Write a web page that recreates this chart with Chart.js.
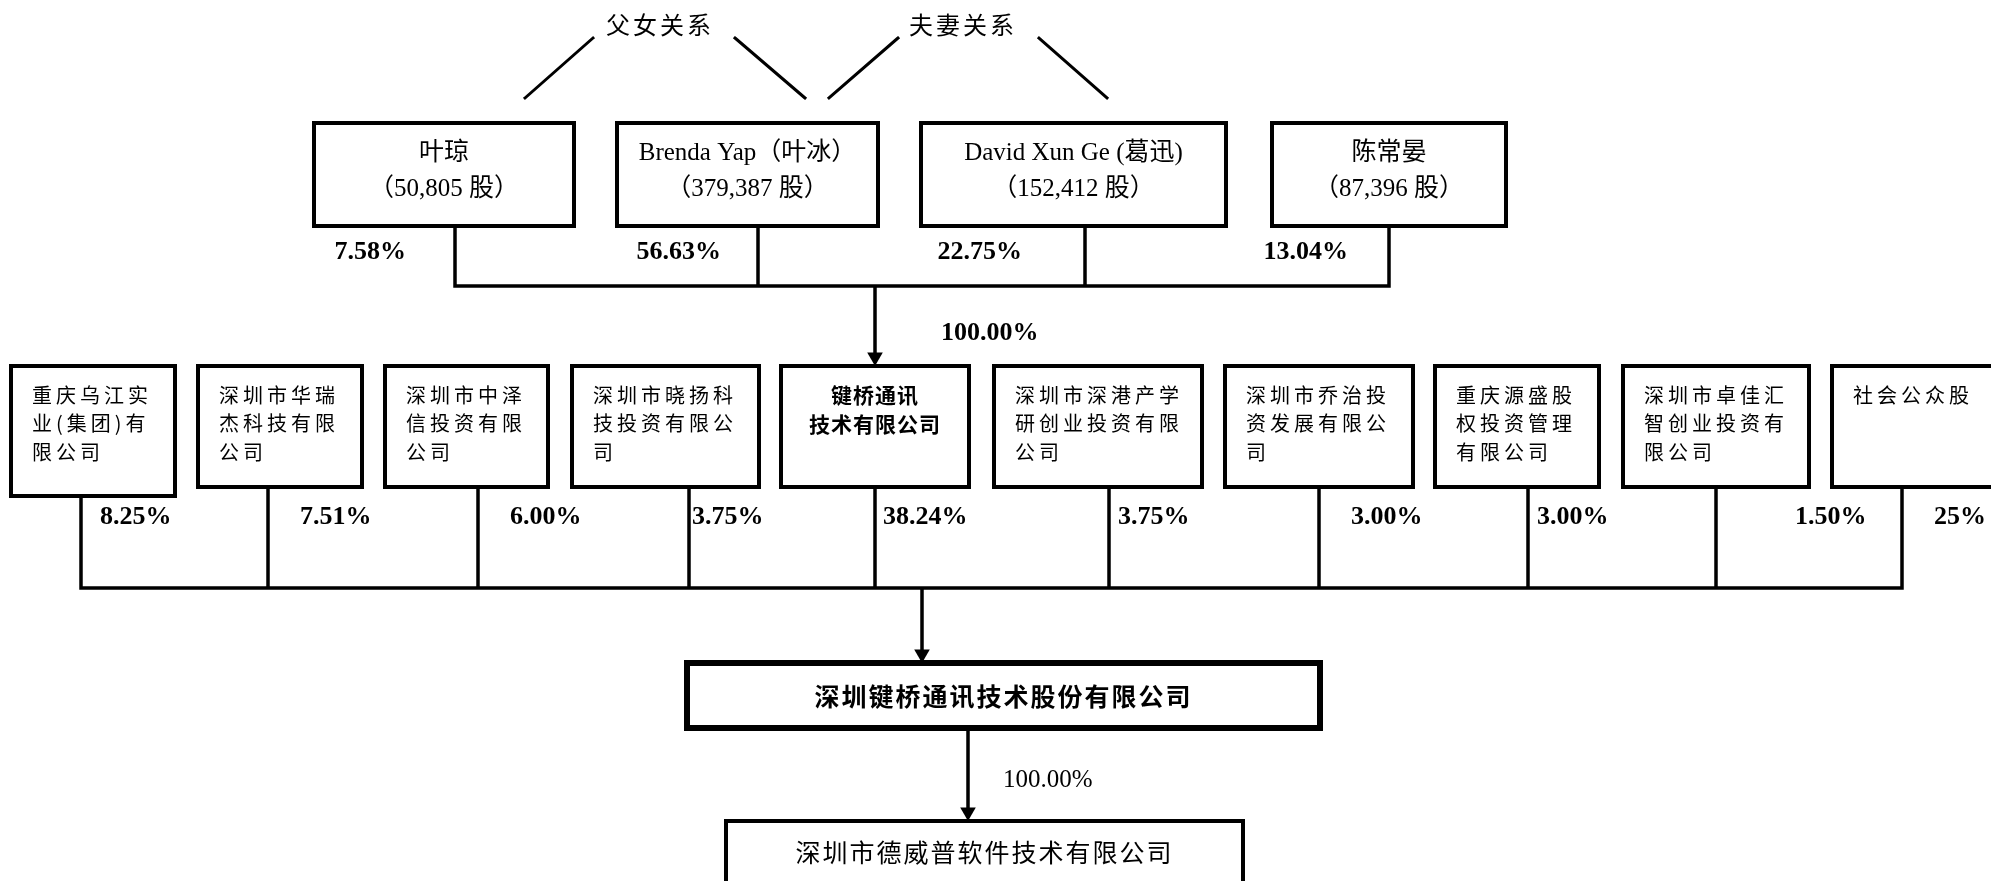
<!DOCTYPE html>
<html>
<head>
<meta charset="utf-8">
<style>
    html, body { margin: 0; padding: 0; background: #fff; overflow: hidden; }
    canvas { display: block; }
</style>
<script src="https://cdn.jsdelivr.net/npm/chart.js@4.4.1/dist/chart.umd.min.js"></script>
</head>
<body>
<canvas id="chart" width="1991" height="881"></canvas>
<script>
// --- data ---
const relations = ['父女关系', '夫妻关系'];
const founders = ['叶琼', 'Brenda Yap（叶冰）', 'David Xun Ge (葛迅)', '陈常晏'];
const founderShares = [50805, 379387, 152412, 87396];
const founderPct = ['7.58%', '56.63%', '22.75%', '13.04%'];
const parentPct = '100.00%';
const holders = [
    '重庆乌江实\n业(集团)有\n限公司',
    '深圳市华瑞\n杰科技有限\n公司',
    '深圳市中泽\n信投资有限\n公司',
    '深圳市晓扬科\n技投资有限公\n司',
    '键桥通讯\n技术有限公司',
    '深圳市深港产学\n研创业投资有限\n公司',
    '深圳市乔治投\n资发展有限公\n司',
    '重庆源盛股\n权投资管理\n有限公司',
    '深圳市卓佳汇\n智创业投资有\n限公司',
    '社会公众股',
];
const holderPct = ['8.25%', '7.51%', '6.00%', '3.75%', '38.24%', '3.75%', '3.00%', '3.00%', '1.50%', '25%'];
const parentIndex = 4;
const issuer = '深圳键桥通讯技术股份有限公司';
const subsidiary = '深圳市德威普软件技术有限公司';
const subsidiaryPct = '100.00%';

// --- layout (px in a 1991 x 881 value space) ---
const W = 1991, H = 881;
const topBoxes = [[314, 574], [617, 878], [921, 1226], [1272, 1506]];
const topBoxY = [123, 226];
const topStems = [455, 758, 1085, 1389];
const topBarY = 286;
const topPctRight = [406, 721, 1022, 1348];
const relText = [660, 963];
const relLines = [[525, 98, 593, 38], [735, 38, 805, 98], [829, 98, 898, 38], [1039, 38, 1107, 98]];

const midBoxes = [[11, 175], [198, 362], [385, 548], [572, 759], [781, 969], [994, 1202], [1225, 1413], [1435, 1599], [1623, 1809], [1832, 2010]];
const midTop = 366;
const midBottoms = [496, 487, 487, 487, 487, 487, 487, 487, 487, 487];
const midStems = [81, 268, 478, 689, 875, 1109, 1319, 1528, 1716, 1902];
const midPctLeft = [100, 300, 510, 692, 883, 1118, 1351, 1537, 1795, 1934];
const midBarY = 588;

const issuerBox = [687, 1320, 663, 728];
const subBox = [726, 1243, 821, 900];
const arrows = [[875, topBarY, midTop], [922, midBarY, issuerBox[2]], [968, issuerBox[3], subBox[2]]];
const arrowR = 9;

const SERIF = '"Liberation Serif", "Times New Roman", "Noto Sans CJK SC", serif';
const CJK = '"Noto Sans CJK SC", "Liberation Serif", sans-serif';

function rect(x0, x1, y0, y1) {
    return [{ x: x0, y: y0 }, { x: x1, y: y0 }, { x: x1, y: y1 }, { x: x0, y: y1 }, { x: x0, y: y0 }, { x: x0, y: null }];
}
function seg(x0, y0, x1, y1) {
    return [{ x: x0, y: y0 }, { x: x1, y: y1 }, { x: x1, y: null }];
}

const boxPoints = [
    ...topBoxes.flatMap(([a, b]) => rect(a, b, topBoxY[0], topBoxY[1])),
    ...midBoxes.flatMap(([a, b], i) => rect(a, b, midTop, midBottoms[i])),
    ...rect(subBox[0], subBox[1], subBox[2], subBox[3]),
];
const connectorPoints = [
    ...topStems.flatMap((x) => seg(x, topBoxY[1], x, topBarY)),
    ...seg(topStems[0], topBarY, topStems[topStems.length - 1], topBarY),
    ...midStems.flatMap((x, i) => seg(x, midBottoms[i], x, midBarY)),
    ...seg(midStems[0], midBarY, midStems[midStems.length - 1], midBarY),
    ...arrows.flatMap(([x, y0, y1]) => seg(x, y0, x, y1 - arrowR)),
];
const relationPoints = relLines.flatMap(([a, b, c, d]) => seg(a, b, c, d));
const arrowPoints = arrows.map(([x, , y1]) => ({ x, y: y1 - arrowR }));

const line = (data, width) => ({
    type: 'scatter', data, showLine: true, spanGaps: false,
    borderColor: '#000', borderWidth: width, pointRadius: 0,
    borderCapStyle: 'square', borderJoinStyle: 'miter', tension: 0,
});

const textPlugin = {
    id: 'orgText',
    afterDatasetsDraw(chart) {
        const { ctx } = chart;
        const sx = (v) => chart.scales.x.getPixelForValue(v);
        const sy = (v) => chart.scales.y.getPixelForValue(v);
        const put = (text, x, y, font, align = 'center', spacing = '0px') => {
            ctx.font = font;
            ctx.letterSpacing = spacing;
            ctx.textAlign = align;
            ctx.textBaseline = 'middle';
            ctx.fillStyle = '#000';
            ctx.fillText(text, sx(x), sy(y));
        };
        ctx.save();

        relations.forEach((r, i) => put(r, relText[i], 25, `24px ${CJK}`, 'center', '3px'));

        founders.forEach((name, i) => {
            const cx = (topBoxes[i][0] + topBoxes[i][1]) / 2;
            put(name, cx, 153, `25px ${SERIF}`);
            put(`（${founderShares[i].toLocaleString('en-US')} 股）`, cx, 189, `25px ${SERIF}`);
            put(founderPct[i], topPctRight[i], 252, `bold 26px ${SERIF}`, 'right');
        });
        put(parentPct, 941, 333, `bold 26px ${SERIF}`, 'left');

        holders.forEach((name, i) => {
            const lines = name.split('\n');
            lines.forEach((ln, k) => {
                if (i === parentIndex) {
                    put(ln, (midBoxes[i][0] + midBoxes[i][1]) / 2, 395 + k * 29, `bold 21px ${CJK}`, 'center', '1px');
                } else {
                    put(ln, midBoxes[i][0] + 21, 395 + k * 28.5, `20px ${CJK}`, 'left', '4px');
                }
            });
            put(holderPct[i], midPctLeft[i], 517, `bold 26px ${SERIF}`, 'left');
        });

        put(issuer, (issuerBox[0] + issuerBox[1]) / 2, 696, `bold 25px ${CJK}`, 'center', '2px');
        put(subsidiaryPct, 1003, 780, `25px ${SERIF}`, 'left');
        put(subsidiary, (subBox[0] + subBox[1]) / 2, 852, `25px ${CJK}`, 'center', '2px');
        ctx.restore();
    },
};

new Chart(document.getElementById('chart'), {
    type: 'scatter',
    data: {
        datasets: [
            line(boxPoints, 4),
            line(rect(issuerBox[0], issuerBox[1], issuerBox[2], issuerBox[3]), 6),
            line(connectorPoints, 3.5),
            line(relationPoints, 3),
            {
                type: 'scatter', data: arrowPoints, pointStyle: 'triangle', rotation: 180,
                pointRadius: arrowR, backgroundColor: '#000', borderColor: '#000', borderWidth: 0, showLine: false,
            },
        ],
    },
    options: {
        responsive: false,
        devicePixelRatio: 1,
        animation: false,
        events: [],
        layout: { padding: 0, autoPadding: false },
        plugins: { legend: { display: false }, tooltip: { enabled: false } },
        scales: {
            x: { type: 'linear', min: 0, max: W, display: false },
            y: { type: 'linear', min: 0, max: H, reverse: true, display: false },
        },
    },
    plugins: [textPlugin],
});
</script>
</body>
</html>
